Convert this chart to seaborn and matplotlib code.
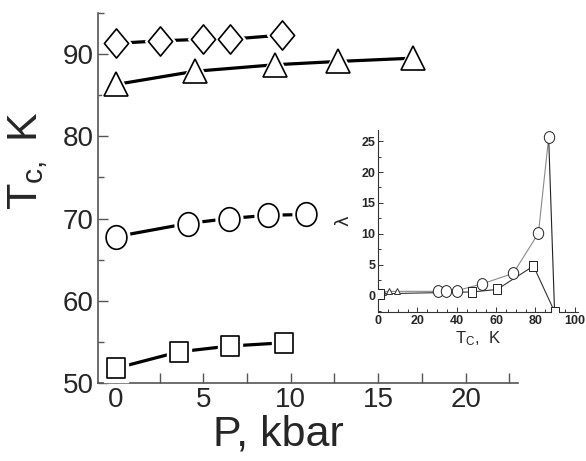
import numpy as np
import matplotlib
matplotlib.use("Agg")
import matplotlib.pyplot as plt
from matplotlib.path import Path
from matplotlib.transforms import Affine2D
from matplotlib.ticker import MultipleLocator
import seaborn as sns

# main panel: Tc vs pressure
diam_p = [0, 2.5, 5.0, 6.5, 9.5]
diam_tc = [91.3, 91.6, 91.8, 91.8, 92.3]
tri_p = [0, 4.5, 9.1, 12.7, 17.0]
tri_tc = [86.3, 87.9, 88.7, 89.1, 89.5]
circ_p = [0, 4.1, 6.45, 8.7, 10.9]
circ_tc = [67.8, 69.4, 70.0, 70.4, 70.5]
sq_p = [0, 3.6, 6.5, 9.6]
sq_tc = [51.8, 53.8, 54.5, 54.9]

# inset: lambda vs Tc
lam_tri_tc = [2.5, 5.5, 9.5]
lam_tri = [0.6, 0.7, 0.7]
lam_circ_tc = [30.3, 34.8, 40.0, 52.8, 68.7, 81.5, 86.7]
lam_circ = [0.7, 0.7, 0.8, 1.9, 3.6, 10.1, 25.6]
lam_sq_tc = [1.0, 48.0, 60.5, 79.0, 89.7]
lam_sq = [0.3, 0.6, 1.0, 4.8, -2.6]

sns.set_theme(style="ticks")
plt.rcParams['font.family'] = ['Liberation Sans', 'DejaVu Sans']
plt.rcParams['mathtext.fontset'] = 'custom'
plt.rcParams['mathtext.rm'] = 'Liberation Sans'
plt.rcParams['mathtext.it'] = 'Liberation Sans'

# slightly tall markers like the original
diamond = Path([(-0.83, 0), (0, 1), (0.83, 0), (0, -1), (-0.83, 0)], closed=True)
ellipse = Path.unit_circle().transformed(Affine2D().scale(0.88, 1.0))
rect = Path([(-0.85, -1), (0.85, -1), (0.85, 1), (-0.85, 1), (-0.85, -1)], closed=True)

fig = plt.figure(figsize=(5.86, 4.61), dpi=100)
ax = fig.add_axes([0.167, 0.169, 0.717, 0.803])

series = [
    (diam_p, diam_tc, diamond, 21),
    (tri_p, tri_tc, '^', 17.5),
    (circ_p, circ_tc, ellipse, 17),
    (sq_p, sq_tc, rect, 14.5),
]
for px, ty, mk, ms in series:
    sns.lineplot(x=px, y=ty, ax=ax, color='black', lw=2.3, zorder=2)
    # white halo so the line stops short of the marker
    ax.plot(px, ty, ls='none', marker=mk, ms=ms + 5, mfc='white', mec='white', zorder=3)
    ax.plot(px, ty, ls='none', marker=mk, ms=ms, mfc='white', mec='black', mew=1.2, zorder=4)

ax.set_xlim(-1.03, 23.0)
ax.set_ylim(50, 95)
ax.xaxis.set_major_locator(MultipleLocator(5))
ax.xaxis.set_minor_locator(MultipleLocator(2.5))
ax.yaxis.set_major_locator(MultipleLocator(10))
ax.yaxis.set_minor_locator(MultipleLocator(5))
ax.tick_params(which='both', direction='in', color='#555555', width=1)
ax.tick_params(which='major', length=7, labelsize=20, pad=3)
ax.tick_params(axis='x', which='minor', length=7)
ax.tick_params(axis='y', which='minor', length=4)
for s in ['top', 'right']:
    ax.spines[s].set_visible(False)
for s in ['left', 'bottom']:
    ax.spines[s].set_color('#555555')
    ax.spines[s].set_linewidth(1.2)
ax.set_xlabel('P, kbar', fontsize=31)
ax.xaxis.set_label_coords(0.43, -0.085, transform=ax.transAxes)
ax.xaxis.label.set_va('top')
ax.set_ylabel(r'T$_{\mathrm{c},}$ K', fontsize=31)
ax.yaxis.set_label_coords(-0.165, 0.6)
ax.yaxis.label.set_va('center')

# inset
ins = fig.add_axes([0.645, 0.323, 0.341, 0.395])
ins.patch.set_alpha(0)
sns.lineplot(x=lam_tri_tc + lam_circ_tc, y=lam_tri + lam_circ, ax=ins, color='#8a8a8a', lw=0.8, zorder=2)
sns.lineplot(x=lam_sq_tc, y=lam_sq, ax=ins, color='#333333', lw=0.8, zorder=2)
ins.plot([lam_circ_tc[-1], lam_sq_tc[-1]], [lam_circ[-1], lam_sq[-1]], color='#222222', lw=0.8, zorder=2)
ins.plot(lam_tri_tc, lam_tri, ls='none', marker='^', ms=4.5, mfc='white', mec='#333333', mew=0.7, zorder=4)
ins.plot(lam_circ_tc, lam_circ, ls='none', marker=ellipse, ms=8.5, mfc='white', mec='#222222', mew=0.7, zorder=4)
ins.plot(lam_sq_tc, lam_sq, ls='none', marker=rect, ms=7.5, mfc='white', mec='#222222', mew=0.7, zorder=4)
ins.set_xlim(0, 101.5)
ins.set_ylim(-2.66, 26.8)
ins.xaxis.set_major_locator(MultipleLocator(20))
ins.xaxis.set_minor_locator(MultipleLocator(5))
ins.yaxis.set_major_locator(MultipleLocator(5))
ins.yaxis.set_minor_locator(MultipleLocator(2.5))
ins.tick_params(which='both', direction='in', color='#333333', width=0.7)
ins.tick_params(which='major', length=3.5, labelsize=9, pad=2)
ins.tick_params(which='minor', length=2)
for lab in ins.get_xticklabels() + ins.get_yticklabels():
    lab.set_fontweight('bold')
for s in ['top', 'right']:
    ins.spines[s].set_visible(False)
for s in ['left', 'bottom']:
    ins.spines[s].set_color('#333333')
    ins.spines[s].set_linewidth(0.8)
ins.set_xlabel(r'T$_\mathrm{C}$,  K', fontsize=12, labelpad=2)
ins.set_ylabel('λ', fontsize=13, family=['DejaVu Sans'], labelpad=6)

fig.savefig('out.png', dpi=100)
